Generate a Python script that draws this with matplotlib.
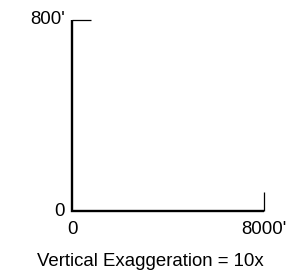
import matplotlib
matplotlib.use("Agg")
import matplotlib.pyplot as plt

plt.rcParams["font.family"] = ["Liberation Sans", "DejaVu Sans"]

# scale bar extents (feet)
x_range = [0, 8000]
y_range = [0, 800]
x_labels = ["0", "8000'"]
y_labels = ["0", "800'"]
caption = "Vertical Exaggeration = 10x"
tick_x = 800     # length of the top end tick, in horizontal feet
tick_y = 80      # length of the right end tick, in vertical feet

W, H = 301, 275
fig = plt.figure(figsize=(W / 100, H / 100), dpi=100)
ax = fig.add_axes([72 / W, (H - 211) / H, (264 - 72) / W, (211 - 20) / H])
ax.set_xlim(x_range)
ax.set_ylim(y_range)
ax.axis("off")

kw = dict(color="black", solid_capstyle="butt", solid_joinstyle="miter", clip_on=False)
# main L-shaped bars
ax.plot([x_range[0], x_range[0], x_range[1]], [y_range[1], y_range[0], y_range[0]], lw=1.7, **kw)
# thin end ticks
ax.plot([x_range[0] - 12, x_range[0] + tick_x], [y_range[1], y_range[1]], lw=0.9, **kw)
ax.plot([x_range[1], x_range[1]], [y_range[0], y_range[0] + tick_y], lw=0.9, **kw)

fs = 13.4
# y labels to the left
for v, lab in zip(y_range, y_labels):
    ax.annotate(lab, xy=(x_range[0], v), xytext=(-5, 0), textcoords="offset points",
                ha="right", va="center", fontsize=fs)
# x labels below
for v, lab in zip(x_range, x_labels):
    ax.annotate(lab, xy=(v, y_range[0]), xytext=(0, -7), textcoords="offset points",
                ha="center", va="top", fontsize=fs)

fig.text(150 / W, 1 - 262 / H, caption, ha="center", va="center", fontsize=fs)

fig.savefig("out.png", dpi=100)
